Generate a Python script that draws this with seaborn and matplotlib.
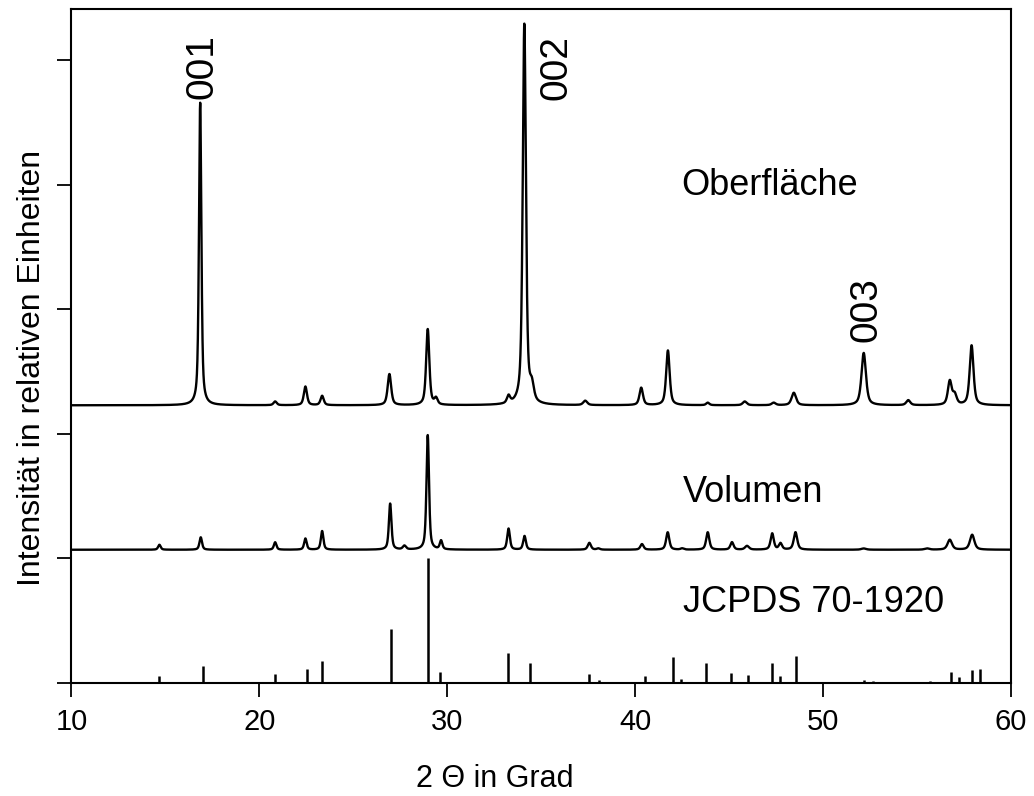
import numpy as np
import pandas as pd
import matplotlib
matplotlib.use("Agg")
import matplotlib.pyplot as plt
import seaborn as sns

# Oberflaeche pattern: peak position (2 theta), height above background, FWHM
ob_pos = [16.85, 20.84, 22.45, 23.34, 26.92, 28.96, 29.4, 33.26, 34.1, 34.5,
          37.34, 40.32, 41.74, 43.86, 45.83, 47.37, 48.44, 52.16, 54.53,
          56.74, 57.0, 57.9]
ob_height = [2.43, 0.03, 0.15, 0.075, 0.25, 0.61, 0.05, 0.06, 3.06, 0.12,
             0.035, 0.14, 0.44, 0.02, 0.03, 0.02, 0.1, 0.42, 0.04,
             0.19, 0.08, 0.48]
ob_fwhm = [0.15, 0.2, 0.2, 0.2, 0.22, 0.2, 0.2, 0.2, 0.2, 0.25,
           0.25, 0.22, 0.22, 0.2, 0.25, 0.25, 0.28, 0.28, 0.25,
           0.24, 0.25, 0.24]
ob_background = 2.23

# Volumen pattern
vol_pos = [14.68, 16.88, 20.84, 22.45, 23.34, 26.96, 27.72, 28.96, 29.67,
           33.26, 34.11, 37.56, 38.04, 40.36, 41.73, 42.5, 43.86, 45.15,
           45.95, 47.29, 47.73, 48.53, 52.16, 55.53, 56.74, 57.93]
vol_height = [0.04, 0.10, 0.06, 0.09, 0.15, 0.37, 0.03, 0.92, 0.07,
              0.17, 0.11, 0.055, 0.01, 0.045, 0.14, 0.01, 0.14, 0.06,
              0.03, 0.13, 0.05, 0.14, 0.01, 0.01, 0.08, 0.12]
vol_fwhm = [0.16, 0.16, 0.16, 0.16, 0.16, 0.16, 0.2, 0.16, 0.16,
            0.17, 0.17, 0.2, 0.2, 0.2, 0.2, 0.2, 0.2, 0.2,
            0.25, 0.2, 0.2, 0.22, 0.3, 0.3, 0.28, 0.28]
vol_background = 1.07

# JCPDS 70-1920 reference lines
ref_pos = [14.68, 16.98, 20.82, 22.52, 23.32, 27.0, 29.0, 29.62, 33.23, 34.38,
           37.56, 38.05, 40.54, 42.01, 42.44, 43.79, 45.12, 46.01, 47.29,
           47.69, 48.56, 52.16, 52.66, 55.71, 56.82, 57.22, 57.93, 58.34]
ref_int = [0.056, 0.136, 0.07, 0.11, 0.177, 0.436, 1.0, 0.088, 0.243, 0.158,
           0.072, 0.02, 0.056, 0.206, 0.03, 0.163, 0.083, 0.067, 0.163,
           0.056, 0.22, 0.02, 0.015, 0.015, 0.091, 0.046, 0.104, 0.11]

hkl_labels = ["001", "002", "003"]
hkl_x = [17.0, 35.8, 52.3]
hkl_y = [4.69, 4.68, 2.74]


def pattern(x, pos, height, fwhm, background):
    # pseudo-Voigt peaks on a flat background
    y = np.full_like(x, background)
    for c, h, w in zip(pos, height, fwhm):
        hw = w / 2
        lor = 1 / (1 + ((x - c) / hw) ** 2)
        gau = np.exp(-np.log(2) * ((x - c) / hw) ** 2)
        y += h * (0.6 * lor + 0.4 * gau)
    return y


theta = np.linspace(10, 60, 8000)
df_ob = pd.DataFrame({"x": theta, "y": pattern(theta, ob_pos, ob_height, ob_fwhm, ob_background)})
df_vol = pd.DataFrame({"x": theta, "y": pattern(theta, vol_pos, vol_height, vol_fwhm, vol_background)})

sns.set_theme(style="ticks")
plt.rcParams['font.family'] = ['Liberation Sans', 'DejaVu Sans']
plt.rcParams['text.color'] = 'black'
plt.rcParams['axes.labelcolor'] = 'black'

fig = plt.figure(figsize=(10.34, 7.96), dpi=100)
ax = fig.add_axes([0.0691, 0.142, 0.9087, 0.8463])

sns.lineplot(data=df_ob, x="x", y="y", color="black", lw=1.7, estimator=None, sort=False, ax=ax)
sns.lineplot(data=df_vol, x="x", y="y", color="black", lw=1.7, estimator=None, sort=False, ax=ax)
ax.vlines(ref_pos, 0, ref_int, color="black", lw=1.8)

ax.set_xlim(10, 60)
ax.set_ylim(0, 5.41)
ax.set_xticks([10, 20, 30, 40, 50, 60])
ax.set_yticks([0, 1, 2, 3, 4, 5])
ax.set_yticklabels([])
ax.tick_params(axis="both", direction="out", length=10, width=1.3, colors="black",
               labelsize=21, pad=8)
for s in ax.spines.values():
    s.set_linewidth(1.5)
    s.set_color("black")

ax.set_xlabel("2 \u0398 in Grad", fontsize=22, color="black")
ax.xaxis.set_label_coords(0.451, -0.121)
ax.set_ylabel("Intensit\u00e4t in relativen Einheiten", fontsize=23, color="black")
ax.yaxis.set_label_coords(-0.026, 0.468)

ax.text(42.45, 3.92, "Oberfl\u00e4che", fontsize=26, va="baseline", ha="left")
ax.text(42.55, 1.455, "Volumen", fontsize=26, va="baseline", ha="left")
ax.text(42.55, 0.572, "JCPDS 70-1920", fontsize=26, va="baseline", ha="left")

for lab, xx, yy in zip(hkl_labels, hkl_x, hkl_y):
    ax.text(xx, yy, lab, fontsize=28, rotation=90, ha="center", va="bottom")

fig.savefig("out.png", dpi=100)
